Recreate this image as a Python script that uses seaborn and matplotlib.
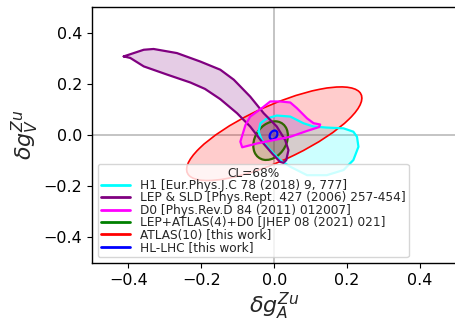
import numpy as np
import pandas as pd
import matplotlib
matplotlib.use("Agg")
import matplotlib.pyplot as plt
from matplotlib.patches import Ellipse, Polygon
from matplotlib.lines import Line2D
import seaborn as sns

# ---------------- data ----------------
# H1 contour (cyan)
h1_gA = [-0.043, -0.038, -0.020, 0.007, 0.044, 0.080, 0.108, 0.144, 0.190, 0.217,
         0.227, 0.231, 0.217, 0.199, 0.190, 0.144, 0.090, 0.044, 0.016, -0.011, -0.034]
h1_gV = [0.013, 0.046, 0.065, 0.076, 0.072, 0.046, 0.033, 0.029, 0.026, 0.013,
         -0.007, -0.046, -0.098, -0.124, -0.137, -0.157, -0.157, -0.124, -0.098, -0.059, -0.020]

# LEP & SLD contour (purple)
lep_gA = [-0.413, -0.358, -0.331, -0.267, -0.203, -0.148, -0.111, -0.066, -0.029, 0.007,
          0.030, 0.039, 0.033, 0.025, 0.016, -0.006, -0.034, -0.066, -0.102, -0.148,
          -0.190, -0.230, -0.294, -0.358, -0.395]
lep_gV = [0.307, 0.333, 0.336, 0.320, 0.287, 0.255, 0.216, 0.150, 0.085, 0.033,
          -0.020, -0.059, -0.098, -0.109, -0.105, -0.072, -0.026, 0.033, 0.085, 0.140,
          0.180, 0.205, 0.236, 0.268, 0.301]

# D0 contour (magenta)
d0_gA = [-0.034, -0.011, 0.016, 0.044, 0.062, 0.090, 0.108, 0.126, 0.123, 0.090,
         0.044, -0.002, -0.047, -0.088, -0.093, -0.079, -0.066]
d0_gV = [0.105, 0.131, 0.131, 0.127, 0.105, 0.065, 0.046, 0.041, 0.031, 0.016,
         -0.007, -0.020, -0.033, -0.048, -0.026, 0.039, 0.072]

# Ellipse fits: centre gA, centre gV, full width, full height, angle (deg)
comb_ell = dict(cA=-0.010, cV=-0.022, w=0.090, h=0.154, ang=-14)   # LEP+ATLAS(4)+D0
atlas_ell = dict(cA=0.000, cV=0.005, w=0.570, h=0.200, ang=35)     # ATLAS(10)
hl_ell = dict(cA=-0.002, cV=0.000, w=0.020, h=0.036, ang=-15)      # HL-LHC

labels = ["H1 [Eur.Phys.J.C 78 (2018) 9, 777]",
          "LEP & SLD [Phys.Rept. 427 (2006) 257-454]",
          "D0 [Phys.Rev.D 84 (2011) 012007]",
          "LEP+ATLAS(4)+D0 [JHEP 08 (2021) 021]",
          "ATLAS(10) [this work]",
          "HL-LHC [this work]"]
colors = ["cyan", "purple", "magenta", "green", "red", "blue"]

# ---------------- figure ----------------
sns.set_theme(style="ticks")
plt.rcParams['font.family'] = ['DejaVu Sans']
plt.rcParams['mathtext.fontset'] = 'dejavusans'

fig = plt.figure(figsize=(4.55, 3.24), dpi=100)
ax = fig.add_axes([92 / 455, 1 - 263 / 324, (456.5 - 92) / 455, (263 - 7) / 324])

ax.axhline(0, color="#bfbfbf", lw=1.3, zorder=0)
ax.axvline(0, color="#bfbfbf", lw=1.3, zorder=0)

lw = 1.6
contours = [(h1_gA, h1_gV, "cyan"), (lep_gA, lep_gV, "purple"), (d0_gA, d0_gV, "magenta")]
for gA, gV, c in contours:
    df = pd.DataFrame({"gA": list(gA) + [gA[0]], "gV": list(gV) + [gV[0]]})
    ax.add_patch(Polygon(np.column_stack([gA, gV]), closed=True, facecolor=c,
                         alpha=0.2, edgecolor="none"))
    sns.lineplot(data=df, x="gA", y="gV", sort=False, estimator=None, color=c,
                 lw=lw, ax=ax)

for e, c in [(comb_ell, "green"), (atlas_ell, "red"), (hl_ell, "blue")]:
    ax.add_patch(Ellipse((e["cA"], e["cV"]), e["w"], e["h"], angle=e["ang"],
                         facecolor=c, alpha=0.2, edgecolor="none"))
    ax.add_patch(Ellipse((e["cA"], e["cV"]), e["w"], e["h"], angle=e["ang"],
                         facecolor="none", edgecolor=c, lw=lw if c != "red" else 1.2))

ax.set_xlim(-0.5, 0.5)
ax.set_ylim(-0.5, 0.5)
ticks = [-0.4, -0.2, 0.0, 0.2, 0.4]
ax.set_xticks(ticks)
ax.set_yticks(ticks)
ax.tick_params(labelsize=11.5, length=3.5, width=0.8, colors="black")
for s in ax.spines.values():
    s.set_color("black")
    s.set_linewidth(1.0)
ax.set_xlabel(r"$\delta g_A^{Zu}$", fontsize=16, labelpad=2)
ax.set_ylabel(r"$\delta g_V^{Zu}$", fontsize=16, labelpad=2)

handles = [Line2D([0], [0], color=c, lw=2) for c in colors]
leg = ax.legend(handles, labels, title="CL=68%", loc="lower left", fontsize=8.7,
                title_fontsize=8.7, labelspacing=-0.05, handlelength=2.4,
                handletextpad=0.8, borderpad=0.25, framealpha=0.8, fancybox=True)
leg.get_frame().set_edgecolor("#cccccc")

fig.savefig("out.png", dpi=100)
